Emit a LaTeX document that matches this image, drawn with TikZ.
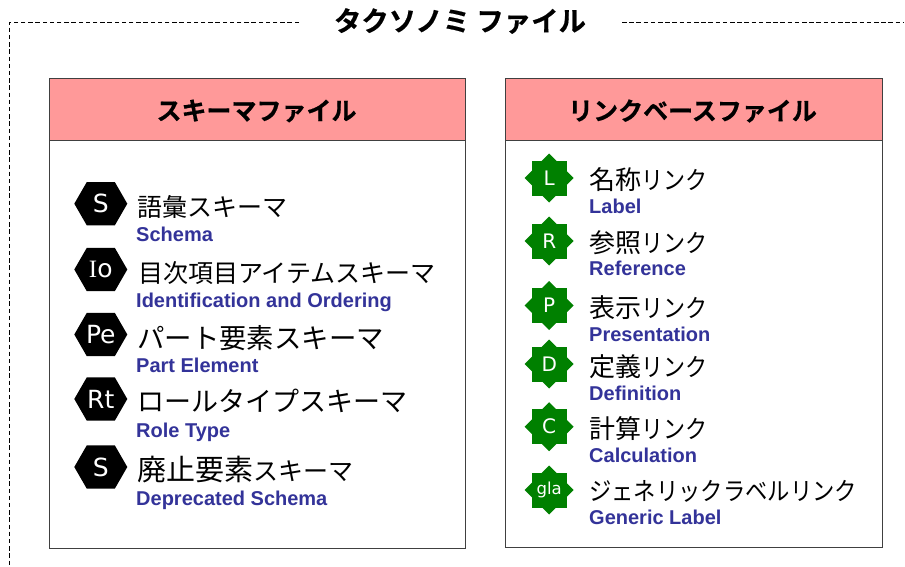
\documentclass[tikz,border=0pt]{standalone}
\usepackage{graphicx}
\usepackage{fontspec}
\setmainfont{Liberation Sans}
\newfontfamily\jpfont{Noto Sans CJK JP}
\newfontfamily\jpbold[FakeBold=0.6]{Noto Sans CJK JP Bold}
\newfontfamily\badgefont{DejaVu Sans}
\newfontfamily\badgeserif{Liberation Serif}
\definecolor{headpink}{HTML}{FF9999}
\definecolor{subblue}{HTML}{333399}
\definecolor{stargreen}{HTML}{008000}
\definecolor{framegray}{HTML}{404040}
\tikzset{
  framebox/.style={draw=framegray,line width=1.2pt,fill=white},
  headbox/.style={draw=framegray,line width=1.2pt,fill=headpink},
  outerdash/.style={draw=black,line width=0.8pt,dash pattern=on 4.5pt off 2.7pt},
  titletext/.style={inner sep=0pt,font=\jpbold\fontsize{27.4}{27.4}\selectfont},
  headtext/.style={inner sep=0pt,font=\jpbold\fontsize{25}{25}\selectfont},
  jptext/.style={anchor=west,inner sep=0pt,font=\jpfont\fontsize{25}{25}\selectfont},
  subtext/.style={anchor=base west,inner sep=0pt,text=subblue,font=\bfseries\fontsize{20}{20}\selectfont},
  badgetext/.style={inner sep=0pt,text=white,font=\badgefont\fontsize{25}{25}\selectfont},
  startext/.style={inner sep=0pt,text=white,font=\badgefont\fontsize{20}{20}\selectfont},
}
\newcommand{\hexbadge}[4]{% name, y, label, font size
  \fill[black] (74.3,#2) -- (86.8,#2-21.7) -- (114.8,#2-21.7) -- (127.3,#2) -- (114.8,#2+21.7) -- (86.8,#2+21.7) -- cycle;
  \node[badgetext,font=\badgefont\fontsize{#4}{#4}\selectfont] (#1) at (100.8,#2) {#3};
}
\newcommand{\starbadge}[4]{% name, y, label, font size
  \fill[stargreen] (531.7,#2-17.5) rectangle (566.7,#2+17.5);
  \fill[stargreen] (549.2,#2-24.5) -- (573.7,#2) -- (549.2,#2+24.5) -- (524.7,#2) -- cycle;
  \node[startext,font=\badgefont\fontsize{#4}{#4}\selectfont] (#1) at (549.2,#2) {#3};
}
\newcommand{\kj}[2]{{\fontsize{#1}{#1}\selectfont #2}}
\newcommand{\lnk}{\scalebox{.88}[1]{リンク}}
\begin{document}
\begin{tikzpicture}[x=1pt,y=-1pt]
\useasboundingbox (0,0) rectangle (905,566);
\coordinate (fa) at (299,22);
\coordinate (fb) at (9.5,22);
\coordinate (fc) at (9.5,566);
\coordinate (fd) at (622,22);
\coordinate (fe) at (904,22);
\draw[outerdash] (fa) -- (fb) -- (fc);
\draw[outerdash] (fd) -- (fe);
\node[titletext] (title) at (460,21) {タクソノミ ファイル};
% left panel
\draw[framebox] (49.5,78.5) rectangle (465.5,548.8);
\draw[headbox] (49.5,78.5) rectangle (465.5,140.5);
\node[headtext] (lefthead) at (256.5,111) {スキーマファイル};
\hexbadge{h1}{203.7}{S}{25}
\hexbadge{h2}{269.5}{{\badgeserif I}o}{25}
\hexbadge{h3}{334.5}{Pe}{25}
\hexbadge{h4}{399}{Rt}{25}
\hexbadge{h5}{467}{S}{25}
\node[jptext] (lj1) at (137,207) {語彙スキーマ};
\node[subtext] (ls1) at (136,241) {Schema};
\node[jptext] (lj2) at (138,273) {目次項目アイテムスキーマ};
\node[subtext] (ls2) at (136,307) {Identification and Ordering};
\node[jptext] (lj3) at (137,338) {\kj{27.4}{パート要素スキーマ}};
\node[subtext] (ls3) at (136,372) {Part Element};
\node[jptext] (lj4) at (137,401) {\kj{27}{ロールタイプスキーマ}};
\node[subtext] (ls4) at (136,437) {Role Type};
\node[jptext] (lj5) at (137,470) {\kj{29}{廃止要素}スキーマ};
\node[subtext] (ls5) at (136,505) {Deprecated Schema};
% right panel
\draw[framebox] (505.7,78.5) rectangle (882.5,547.3);
\draw[headbox] (505.7,78.5) rectangle (882.5,140.5);
\node[headtext] (righthead) at (692.5,111) {リンクベースファイル};
\starbadge{s1}{178}{L}{20}
\starbadge{s2}{241}{R}{20}
\starbadge{s3}{305.5}{P}{20}
\starbadge{s4}{364}{D}{20}
\starbadge{s5}{426.7}{C}{20}
\starbadge{s6}{490}{gla}{16.5}
\node[jptext] (rj1) at (589,180) {\kj{26}{名称}\lnk};
\node[subtext] (rs1) at (589,213) {Label};
\node[jptext] (rj2) at (589,243) {\kj{26}{参照}\lnk};
\node[subtext] (rs2) at (589,275.5) {Reference};
\node[jptext] (rj3) at (589,308) {\kj{26}{表示}\lnk};
\node[subtext] (rs3) at (589,341) {Presentation};
\node[jptext] (rj4) at (589,367) {\kj{26}{定義}\lnk};
\node[subtext] (rs4) at (589,400) {Definition};
\node[jptext] (rj5) at (589,429) {\kj{26}{計算}\lnk};
\node[subtext] (rs5) at (589,462) {Calculation};
\node[jptext] (rj6) at (589,491) {\scalebox{.893}[1]{ジェネリックラベルリンク}};
\node[subtext] (rs6) at (589,524) {Generic Label};
\end{tikzpicture}
\end{document}
